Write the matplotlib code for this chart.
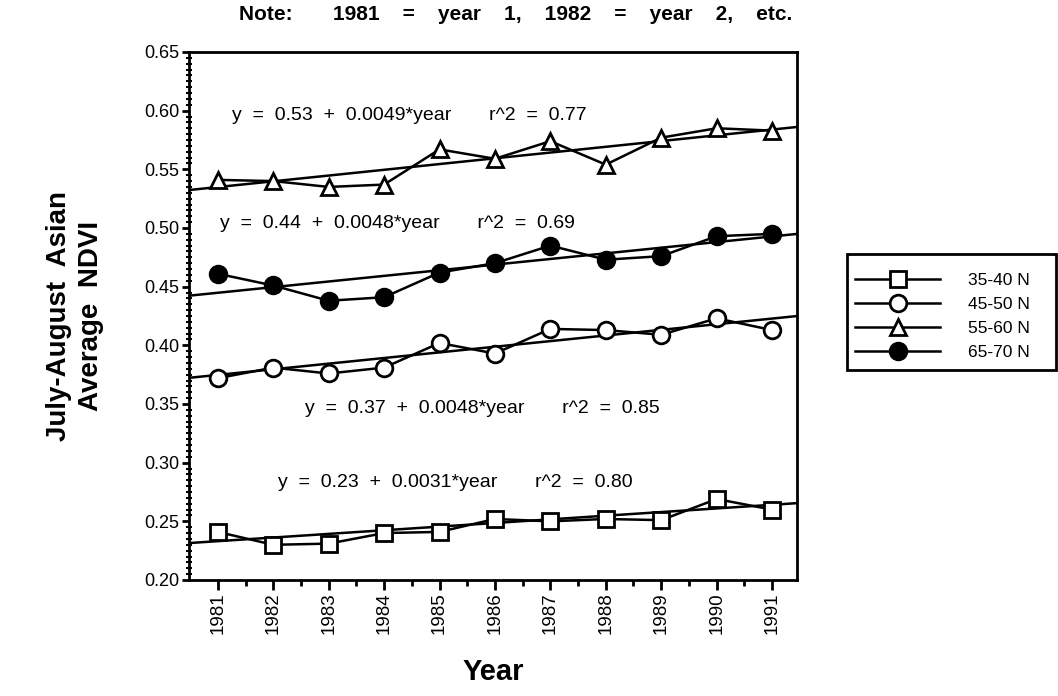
import numpy as np
import matplotlib
matplotlib.use('Agg')
import matplotlib.pyplot as plt
from matplotlib.ticker import MultipleLocator, FixedLocator, FormatStrFormatter
from matplotlib.lines import Line2D
from matplotlib.patches import Rectangle

plt.rcParams['font.family'] = ['Liberation Sans', 'DejaVu Sans']

years = np.arange(1981, 1992)
labels = ['35-40 N', '45-50 N', '55-60 N', '65-70 N']

ndvi_35_40 = [0.241, 0.230, 0.231, 0.240, 0.241, 0.252, 0.250, 0.252, 0.251, 0.269, 0.260]
ndvi_45_50 = [0.372, 0.381, 0.376, 0.381, 0.402, 0.393, 0.414, 0.413, 0.409, 0.423, 0.413]
ndvi_55_60 = [0.541, 0.540, 0.535, 0.537, 0.567, 0.559, 0.574, 0.554, 0.577, 0.585, 0.583]
ndvi_65_70 = [0.461, 0.451, 0.438, 0.441, 0.462, 0.470, 0.485, 0.473, 0.476, 0.493, 0.495]

# regression: y = a + b*year, year 1 = 1981
intercepts = [0.23, 0.37, 0.53, 0.44]
slopes = [0.0031, 0.0048, 0.0049, 0.0048]
r2 = [0.80, 0.85, 0.77, 0.69]

series = [ndvi_35_40, ndvi_45_50, ndvi_55_60, ndvi_65_70]
markers = ['s', 'o', '^', 'o']
faces = ['white', 'white', 'white', 'black']
msizes = [12, 12, 12, 12]

W, H = 1058, 696
fig = plt.figure(figsize=(W/100, H/100), dpi=100)
ax = fig.add_axes([189/W, 1-580/H, (797-189)/W, (580-52)/H])

xlo, xhi = 1980.48, 1991.45
for vals, m, fc, ms in zip(series, markers, faces, msizes):
    ax.plot(years, vals, color='black', lw=1.8, marker=m, ms=ms,
            mfc=fc, mec='black', mew=2.0, zorder=3)

xx = np.array([xlo, xhi])
for a, b in zip(intercepts, slopes):
    ax.plot(xx, a + b*(xx - 1980), color='black', lw=1.8, zorder=2)

# equation labels (35-40, 45-50, 55-60, 65-70)
text_pos = [(1982.09, 0.283), (1982.57, 0.346), (1981.26, 0.596), (1981.04, 0.504)]
for (tx, ty), a, b, r in zip(text_pos, intercepts, slopes, r2):
    s = 'y  =  %.2f  +  %.4f*year       r^2  =  %.2f' % (a, b, r)
    ax.text(tx, ty, s, fontsize=14, ha='left', va='center')

ax.set_xlim(xlo, xhi)
ax.set_ylim(0.20, 0.65)
ax.set_xticks(years)
ax.set_xticklabels([str(y) for y in years], rotation=90, fontsize=13.5)
ax.xaxis.set_minor_locator(FixedLocator(years[:-1] + 0.5))
ax.yaxis.set_major_locator(MultipleLocator(0.05))
ax.yaxis.set_minor_locator(MultipleLocator(0.005))
ax.yaxis.set_major_formatter(FormatStrFormatter('%.2f'))
ax.tick_params(axis='y', labelsize=13)
ax.tick_params(axis='x', which='major', length=7, width=2, direction='out', pad=2)
ax.tick_params(axis='y', which='major', length=5, width=2, direction='out', pad=2)
ax.tick_params(axis='x', which='minor', length=4, width=2, direction='out')
ax.tick_params(axis='y', which='minor', length=4, width=1.5, direction='inout')
for sp in ax.spines.values():
    sp.set_linewidth(2)

ax.set_xlabel('Year', fontsize=21, fontweight='bold', labelpad=17)
ax.set_ylabel('July-August  Asian\nAverage  NDVI', fontsize=20, fontweight='bold',
              linespacing=1.3)
ax.yaxis.set_label_coords(-0.14, 0.5)
fig.text(516/W, 1-14/H,
         'Note:       1981    =    year    1,    1982    =    year    2,    etc.',
         fontsize=15, fontweight='bold', ha='center', va='center')

# legend box drawn separately so the padding can match
fig.patches.append(Rectangle((847/W, 1-370/H), (1056-847)/W, (370-254)/H,
                             transform=fig.transFigure, fill=False,
                             edgecolor='black', lw=2))
handles = [Line2D([], [], color='black', lw=1.8, marker=m, ms=ms, mfc=fc,
                  mec='black', mew=2.0)
           for m, fc, ms in zip(markers, faces, msizes)]
leg = fig.legend(handles, labels, loc='upper left',
                 bbox_to_anchor=(855/W, 1-273/H), fontsize=12.5,
                 frameon=False, handlelength=4.9, labelspacing=0.5,
                 borderaxespad=0, borderpad=0, handletextpad=1.6)

fig.savefig('out.png', dpi=100)
